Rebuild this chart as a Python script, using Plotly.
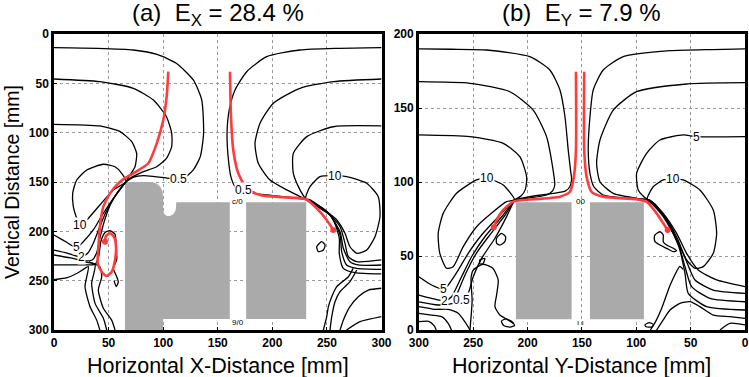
import plotly.graph_objects as go

# ---------------- DATA (data units, mm) ----------------
# Panel (a): x = horizontal X-distance, y = vertical distance (0 at top)
a_gray1_x = [65, 89.5, 94, 97.5, 99.5, 100, 100, 101, 103.5, 106.5, 109.5, 111.5, 112, 161, 161, 100, 100, 65]
a_gray1_y = [150, 150, 151.5, 155, 160, 168, 179, 182.5, 184.5, 184.5, 182.5, 178.5, 170.6, 170.6, 288.8, 288.8, 300, 300]
a_gray2_x = [176, 231, 231, 176]
a_gray2_y = [170.6, 170.6, 288.8, 288.8]

a_lines = {
    "top1": ([0, 40, 72.6, 95, 112, 127.6, 135.3, 137, 134, 127.6, 120, 113, 106, 92, 82, 73, 66],
             [13.8, 14.5, 16.2, 21, 29.7, 46.6, 66.9, 100.6, 124.3, 137.8, 145.3, 146.8, 146.3, 144.5, 143.6, 145, 149.7]),
    "top2": ([0, 42, 72.6, 91, 103, 107.8, 107.8, 103, 94, 81.8, 69.6, 66],
             [45.6, 48.3, 55, 67, 83.8, 100.6, 114.2, 126, 134.5, 139.5, 146.3, 149.7]),
    "top3": ([0, 42, 60.5, 71.2, 75.7, 74.2, 69.6, 66],
             [91.5, 93.2, 99, 109.1, 121, 134.5, 143, 149.7]),
    "ten": ([66, 62, 55.9, 45.2, 30, 20.8, 17.1, 17.7, 20.8, 23.8, 30, 42, 54.3, 66],
            [149.7, 141.2, 134.5, 132, 137.8, 148, 161.5, 175, 186.8, 193.6, 188.5, 173.3, 158, 149.7]),
    "five": ([0, 10, 20.8, 26.8, 36, 45.2, 54.3, 62, 66],
             [203.7, 210, 216.5, 210.5, 198.6, 181.7, 166.5, 154.7, 149.7]),
    "two": ([0, 12, 25, 31, 36, 41, 47, 55, 61, 66],
            [219, 222, 226, 222, 212, 198, 182, 166, 157, 149.7]),
    "half": ([0, 15, 28, 35, 39, 42, 46, 52, 58, 63, 66],
             [224, 227, 230, 229, 222, 207, 190, 172, 161, 154, 149.7]),
    "inner": ([0, 20, 32, 38, 41, 43, 47, 51.3, 55.9, 56.8, 57.4, 54.3, 56.8, 58.9, 57, 55],
              [234, 234, 234, 233, 225, 210, 201, 199.3, 203, 212, 229, 237.5, 244.3, 251, 256, 250]),
    "d1": ([0, 12, 22, 31.4, 28.4, 33, 39.1, 42], [249, 247, 242, 235.8, 256, 276.4, 290, 300]),
    "d2": ([28, 37.6, 34.5, 37.6, 45.2, 48.3], [231, 234, 252.7, 273, 288, 300]),
    "d3": ([32, 42, 43.7, 40.6, 45.2, 52.8, 55.9], [231, 236, 246, 259.5, 278, 290, 300]),
    "rtop1": ([300, 260, 225.3, 194.8, 176.5, 165.8, 160.5, 158.5, 159.5, 162, 165.8, 172, 182.6, 210, 230.5],
              [13.8, 14.5, 16.2, 23, 38.2, 56.8, 77, 100.6, 124.3, 144.6, 154.7, 158.8, 161.5, 164.9, 167.5]),
    "rtop2": ([300, 255.8, 225.3, 200.9, 188.7, 184.1, 187.1, 197.9, 213.2, 230.5],
              [45.6, 48.3, 55, 70.2, 90.5, 110.8, 131, 148, 158, 167.5]),
    "rtop3": ([300, 255.8, 231.5, 219.2, 219.2, 225.3, 230.5],
              [93.2, 94, 104, 121, 141.2, 158, 167.5]),
    "rten": ([230.5, 234.5, 243.7, 257.4, 268, 286.4, 297, 298.6, 294, 286.4, 277.3, 271.1, 266.5, 259, 243.7, 230.5],
             [167.5, 154.7, 144.6, 143.6, 144.6, 151.3, 164.9, 185, 205.4, 219, 222.3, 215.6, 202, 188.5, 175, 167.5]),
    "ra": ([230.5, 234.5, 249.8, 262, 266.5, 269.6, 277.3, 300], [167.5, 168.2, 180, 195.3, 212, 225.7, 230.8, 229]),
    "rb": ([230.5, 233, 251.3, 262, 265, 271.1, 278.7, 300], [167.5, 168.2, 181.7, 200.4, 217.2, 230.8, 234.1, 234.1]),
    "rc": ([230.5, 233, 252.8, 262, 263.5, 268, 277.3, 300], [167.5, 169, 183.4, 203.7, 220.6, 234.1, 237.5, 238.5]),
    "rd": ([230.5, 233, 254.4, 261.3, 261.3, 265, 275.7, 300], [167.5, 169.5, 185.2, 207, 222.3, 237.5, 241.9, 243.2]),
    "w1": ([274, 269.6, 259, 254.4, 251.3, 249.8, 246.7], [237.5, 246, 256, 266.2, 276.4, 286.5, 300]),
    "w2": ([277.3, 271.1, 262, 257.4, 254.4, 252.8], [239.2, 251, 261.2, 271.3, 286.5, 300]),
    "w3": ([300, 287.9, 278.7, 271.1, 265, 262], [257.7, 259.5, 266.2, 276.4, 290, 300]),
    "w4": ([300, 280.3, 268], [286.5, 291.6, 300]),
    "blob": ([240.6, 245.2, 248.3, 246.7, 242.1, 240.6], [215.6, 210.5, 213.9, 219, 220.6, 215.6]),
}
a_red1_x = [104.7, 103.2, 100.1, 94.1, 86.4, 72.6, 60.5, 51.3, 45.2, 42.8, 41.5, 40.6, 40, 43.7, 48.3, 52.9, 55.9, 56.8, 55.2, 51.3, 47.6, 46.7]
a_red1_y = [38.2, 63.5, 87.2, 110.8, 131, 141.2, 149.7, 161.5, 175, 188.5, 202, 218.9, 232.4, 240.9, 245.3, 240.9, 229, 215.6, 206, 202, 204.7, 210.5]
a_red2_x = [161.2, 162.1, 164.2, 168.8, 176.5, 188.7, 210, 230.8, 240.6, 249.8, 255.8]
a_red2_y = [38.2, 83.8, 117.6, 141.2, 156.4, 163.2, 165.5, 167.5, 176.6, 188.5, 198.6]
a_label_text = ["0.5", "10", "5", "2", "0.5", "10"]
a_label_x = [114, 23.5, 20.5, 25, 174, 257.5]
a_label_y = [147, 193.5, 216, 226.5, 158.5, 143.5]
a_small_text = ["c/0", "9/0"]
a_small_x = [168, 168.5]
a_small_y = [170, 292]

# Panel (b): x = horizontal Y-distance (reversed), y = vertical distance (0 at bottom)
b_gray1_x = [210.7, 159.5, 159.5, 210.7]
b_gray1_y = [86.3, 86.3, 7.2, 7.2]
b_gray2_x = [142.6, 93, 93, 142.6]
b_gray2_y = [86.3, 86.3, 7.2, 7.2]

b_lines = {
    "top1": ([300, 270, 237.7, 197.9, 179.5, 170.2, 165.6, 162.6, 160.5, 159.5, 161, 165, 176.4, 197.9, 212],
             [189.9, 189.7, 189.2, 184.7, 175.7, 162.2, 144.1, 121.6, 108, 102, 97, 94, 92.3, 90.1, 88]),
    "top2": ([300, 253, 216.3, 194.8, 182.5, 177, 175, 177, 182.5, 200.9, 212],
             [167.8, 166.7, 161, 148.6, 130.6, 110.3, 98, 94, 91.2, 89, 88]),
    "top3": ([300, 253, 222.4, 207.1, 200.9, 202, 206, 212],
             [131.8, 130.6, 126.1, 117.1, 103.6, 95, 90.5, 88]),
    "ten": ([212, 222.4, 237.1, 246.9, 265.3, 277.6, 282.2, 280.7, 274.5, 268.4, 259.2, 246.9, 231.6, 219.3, 212],
            [88, 98, 102.5, 101.4, 92.4, 78.8, 65.3, 51.8, 41.7, 42.8, 56.3, 69.8, 79.9, 86.7, 88]),
    "five": ([300, 288.3, 277, 273, 263.8, 254.6, 242.3, 223.9, 212],
             [36, 30.4, 27.5, 30.4, 40.5, 51.8, 64.2, 78.8, 88]),
    "two": ([300, 288.3, 276, 269.9, 260.7, 251.5, 239.3, 222.4, 212],
            [23.6, 21.4, 19.6, 22.5, 36, 49.5, 63, 77.7, 88]),
    "one": ([265, 257, 247, 235, 221, 212], [24, 38, 52, 64, 77.2, 88]),
    "half": ([300, 282.2, 268.4, 260.7, 254.6, 250, 242.3, 230, 219.3, 212],
             [19, 16.9, 18, 20.3, 24.8, 36, 48.4, 62, 76.6, 88]),
    "w1": ([253, 251, 252, 250, 241, 232, 227, 228.5, 230, 225.5, 218, 213],
           [0, 20, 35, 40.5, 44.4, 41.7, 33.8, 23.6, 15.8, 10.1, 6.8, 4.5]),
    "w2": ([300, 285.3, 273, 263.8, 257.7, 253], [15.8, 14, 14, 11.3, 5.6, 0]),
    "w3": ([300, 288.3, 279.1, 273, 270], [11.3, 10.1, 9, 4.5, 0]),
    "w4": ([300, 291, 286, 284], [5.6, 5.8, 3, 0]),
    "blob1": ([228.5, 223.9, 220.2, 220.9, 225.5, 228.5, 228.5], [62, 65.3, 63, 59.7, 57.4, 58.6, 62]),
    "blob2": ([243.9, 239.3, 240.8, 243.9, 243.9], [47.3, 48.4, 45, 44.6, 47.3]),
    "blob3": ([224, 220, 214, 212, 216, 222, 224], [6, 7.5, 5.5, 3, 2, 3, 6]),
    "rtop1": ([0, 30, 69, 112, 130.4, 139.6, 142.6, 144.2, 142.6, 139, 130.4, 105.8, 90],
              [189.9, 189.5, 188.7, 184.7, 175.7, 162.2, 144.1, 121.6, 105.9, 96.8, 91.2, 89, 88.3]),
    "rtop2": ([0, 53.7, 99.7, 121.2, 133.4, 136.5, 133.4, 121.2, 99.7, 90],
              [167.1, 166.2, 161, 148.6, 128.4, 112.6, 100.2, 92.3, 89, 88.3]),
    "rtop3": ([0, 45.1, 56.8, 78.2, 90.5, 99.7, 98.2, 93, 90],
              [130.6, 130.6, 131.8, 128.4, 119.4, 105.9, 94.6, 90, 88.3]),
    "rten": ([90, 84.4, 75.2, 66, 56.8, 41.5, 29.2, 26.1, 29.2, 38.4, 46, 53.7, 62.9, 75.2, 84.4, 90],
             [88.3, 96.8, 101.4, 102, 101.4, 94.6, 81.1, 65.3, 51.8, 42.8, 41.7, 47.3, 60.8, 76.6, 84.5, 88.3]),
    "ra": ([90, 87.4, 75.2, 62.9, 53.7, 43, 26.1, 0], [88.3, 87.8, 78.8, 65.3, 51.8, 40.5, 33.8, 29.3]),
    "rb": ([90, 85.9, 73.6, 62.3, 54.3, 46, 29.2, 0], [88.3, 86.7, 76.6, 62, 47.3, 33.8, 27, 24.8]),
    "rc": ([90, 84.4, 72.1, 61.4, 55.2, 49.1, 32.2, 0], [88.3, 85.6, 74.3, 58.6, 42.8, 29.3, 21.4, 19.1]),
    "rd": ([90, 82.8, 70.6, 60.4, 55.2, 52.2, 35.3, 0], [88.3, 85.1, 72.1, 55.2, 38.3, 24.8, 15.8, 13.5]),
    "rblob": ([82.8, 78.2, 75.2, 75.2, 72.1, 66, 62.9, 66, 72.1, 78.2, 82.8, 83.4, 82.8],
              [64.2, 66.4, 64.2, 59.7, 57.4, 55.2, 53.6, 52.9, 55.2, 57.4, 59.7, 63, 64.2]),
    "rw1": ([87, 82, 77, 73, 69, 64, 60, 57], [0, 6, 14, 22, 30, 38, 43, 41]),
    "rw2": ([81.3, 75.2, 69, 59.8, 50.6, 41.5, 29.2, 13.9, 0], [0, 6.8, 13.5, 18, 19.1, 15.8, 10.1, 9, 7.9]),
    "rw3": ([0, 13.9, 23], [3.4, 4.5, 0]),
    "rblob2": ([92, 88, 84, 86, 91, 92], [3.5, 5, 3.5, 2, 2.2, 3.5]),
}
b_red1_x = [155.5, 155.5, 157.4, 161, 170.2, 204, 213.2, 222.4, 228.5, 231]
b_red1_y = [174.5, 121.6, 103.6, 93.4, 90.1, 87.8, 86.7, 81.1, 74.3, 69.4]
b_red2_x = [147.9, 147.9, 145.7, 141.1, 130.4, 99.7, 90.5, 81.3, 75.2, 71.2]
b_red2_y = [174.5, 121.6, 103.6, 93.4, 90.1, 88.3, 86.7, 78.8, 72.1, 67.6]
b_label_text = ["10", "5", "2", "0.5", "5", "10"]
b_label_x = [237.5, 277, 276.5, 260.5, 45, 66]
b_label_y = [102.5, 28, 19.3, 20.3, 130.6, 102]
b_small_text = ["00", "ı ı"]
b_small_x = [151.5, 151.5]
b_small_y = [86.5, 5]

ticks_a = [0, 50, 100, 150, 200, 250, 300]
ticks_b_y = [0, 50, 100, 150, 200]

# ---------------- FIGURE ----------------
GRAY = "#aaaaaa"
RED = "#ff3b3b"
fig = go.Figure()

def gray(xs, ys, xa, ya):
    fig.add_trace(go.Scatter(x=xs, y=ys, xaxis=xa, yaxis=ya, mode="lines", fill="toself",
                             fillcolor=GRAY, line=dict(width=0, color=GRAY), hoverinfo="skip",
                             showlegend=False))

gray(a_gray1_x, a_gray1_y, "x", "y")
gray(a_gray2_x, a_gray2_y, "x", "y")
gray(b_gray1_x, b_gray1_y, "x2", "y2")
gray(b_gray2_x, b_gray2_y, "x2", "y2")

for name, (xs, ys) in a_lines.items():
    fig.add_trace(go.Scatter(x=xs, y=ys, xaxis="x", yaxis="y", mode="lines",
                             line=dict(color="black", width=1.3, shape="spline", smoothing=0.6),
                             showlegend=False, hoverinfo="skip"))
for name, (xs, ys) in b_lines.items():
    fig.add_trace(go.Scatter(x=xs, y=ys, xaxis="x2", yaxis="y2", mode="lines",
                             line=dict(color="black", width=1.3, shape="spline", smoothing=0.6),
                             showlegend=False, hoverinfo="skip"))

for xs, ys, xa, ya in [(a_red1_x, a_red1_y, "x", "y"), (a_red2_x, a_red2_y, "x", "y"),
                       (b_red1_x, b_red1_y, "x2", "y2"), (b_red2_x, b_red2_y, "x2", "y2")]:
    fig.add_trace(go.Scatter(x=xs, y=ys, xaxis=xa, yaxis=ya, mode="lines",
                             line=dict(color=RED, width=2.6, shape="spline", smoothing=0.6),
                             showlegend=False, hoverinfo="skip"))
    fig.add_trace(go.Scatter(x=[xs[-1]], y=[ys[-1]], xaxis=xa, yaxis=ya, mode="markers",
                             marker=dict(color=RED, size=6), showlegend=False, hoverinfo="skip"))

annos = []
LF = dict(size=12, color="black", family="Liberation Sans")
for t, x, y in zip(a_label_text, a_label_x, a_label_y):
    annos.append(dict(text=t, x=x, y=y, xref="x", yref="y", showarrow=False, bgcolor="white",
                      borderpad=0, font=LF))
for t, x, y in zip(b_label_text, b_label_x, b_label_y):
    annos.append(dict(text=t, x=x, y=y, xref="x2", yref="y2", showarrow=False, bgcolor="white",
                      borderpad=0, font=LF))
SF = dict(size=8, color="black", family="Liberation Sans")
for t, x, y in zip(a_small_text, a_small_x, a_small_y):
    annos.append(dict(text=t, x=x, y=y, xref="x", yref="y", showarrow=False, font=SF))
for t, x, y in zip(b_small_text, b_small_x, b_small_y):
    annos.append(dict(text=t, x=x, y=y, xref="x2", yref="y2", showarrow=False, font=SF))

TF = dict(size=24, color="black", family="Liberation Sans")
annos.append(dict(text="(a)  E<sub>X</sub> = 28.4 %", x=0.237, y=1, xref="paper", yref="paper",
                  xanchor="center", yanchor="bottom", yshift=2, showarrow=False, font=TF))
annos.append(dict(text="(b)  E<sub>Y</sub> = 7.9 %", x=0.764, y=1, xref="paper", yref="paper",
                  xanchor="center", yanchor="bottom", yshift=2, showarrow=False, font=TF))
AF = dict(size=21.5, color="black", family="Liberation Sans")
annos.append(dict(text="Horizontal X-Distance [mm]", x=0.237, y=0, xref="paper", yref="paper",
                  xanchor="center", yanchor="top", yshift=-22, showarrow=False, font=AF))
annos.append(dict(text="Horizontal Y-Distance [mm]", x=0.764, y=0, xref="paper", yref="paper",
                  xanchor="center", yanchor="top", yshift=-22, showarrow=False, font=AF))
annos.append(dict(text="Vertical Distance [mm]", x=0, y=0.5, xref="paper", yref="paper",
                  xanchor="center", yanchor="middle", xshift=-42, textangle=-90, showarrow=False,
                  font=dict(size=19.5, color="black", family="Liberation Sans")))

axis_common = dict(showline=True, mirror=True, linecolor="black", linewidth=2.5,
                   showgrid=True, gridcolor="#9a9a9a", gridwidth=1.2, griddash="dot",
                   zeroline=False, ticks="inside", ticklen=3, tickcolor="black", automargin=False,
                   tickfont=dict(size=12, color="black", family="Liberation Sans", weight="bold"))

fig.update_layout(
    width=749, height=377, margin=dict(l=54, r=4, t=34, b=47),
    paper_bgcolor="white", plot_bgcolor="white",
    xaxis=dict(domain=[0, 0.474], range=[0, 300], tickvals=ticks_a, anchor="y", **axis_common),
    yaxis=dict(domain=[0, 1], range=[300, 0], tickvals=ticks_a, anchor="x", **axis_common),
    xaxis2=dict(domain=[0.528, 1], range=[300, 0], tickvals=ticks_a, anchor="y2", **axis_common),
    yaxis2=dict(domain=[0, 1], range=[0, 200], tickvals=ticks_b_y, anchor="x2", **axis_common),
    annotations=annos,
)
fig.write_html("out.html", config={"displayModeBar": False},
               post_script="document.body.style.margin='0';document.body.style.overflow='hidden';")
